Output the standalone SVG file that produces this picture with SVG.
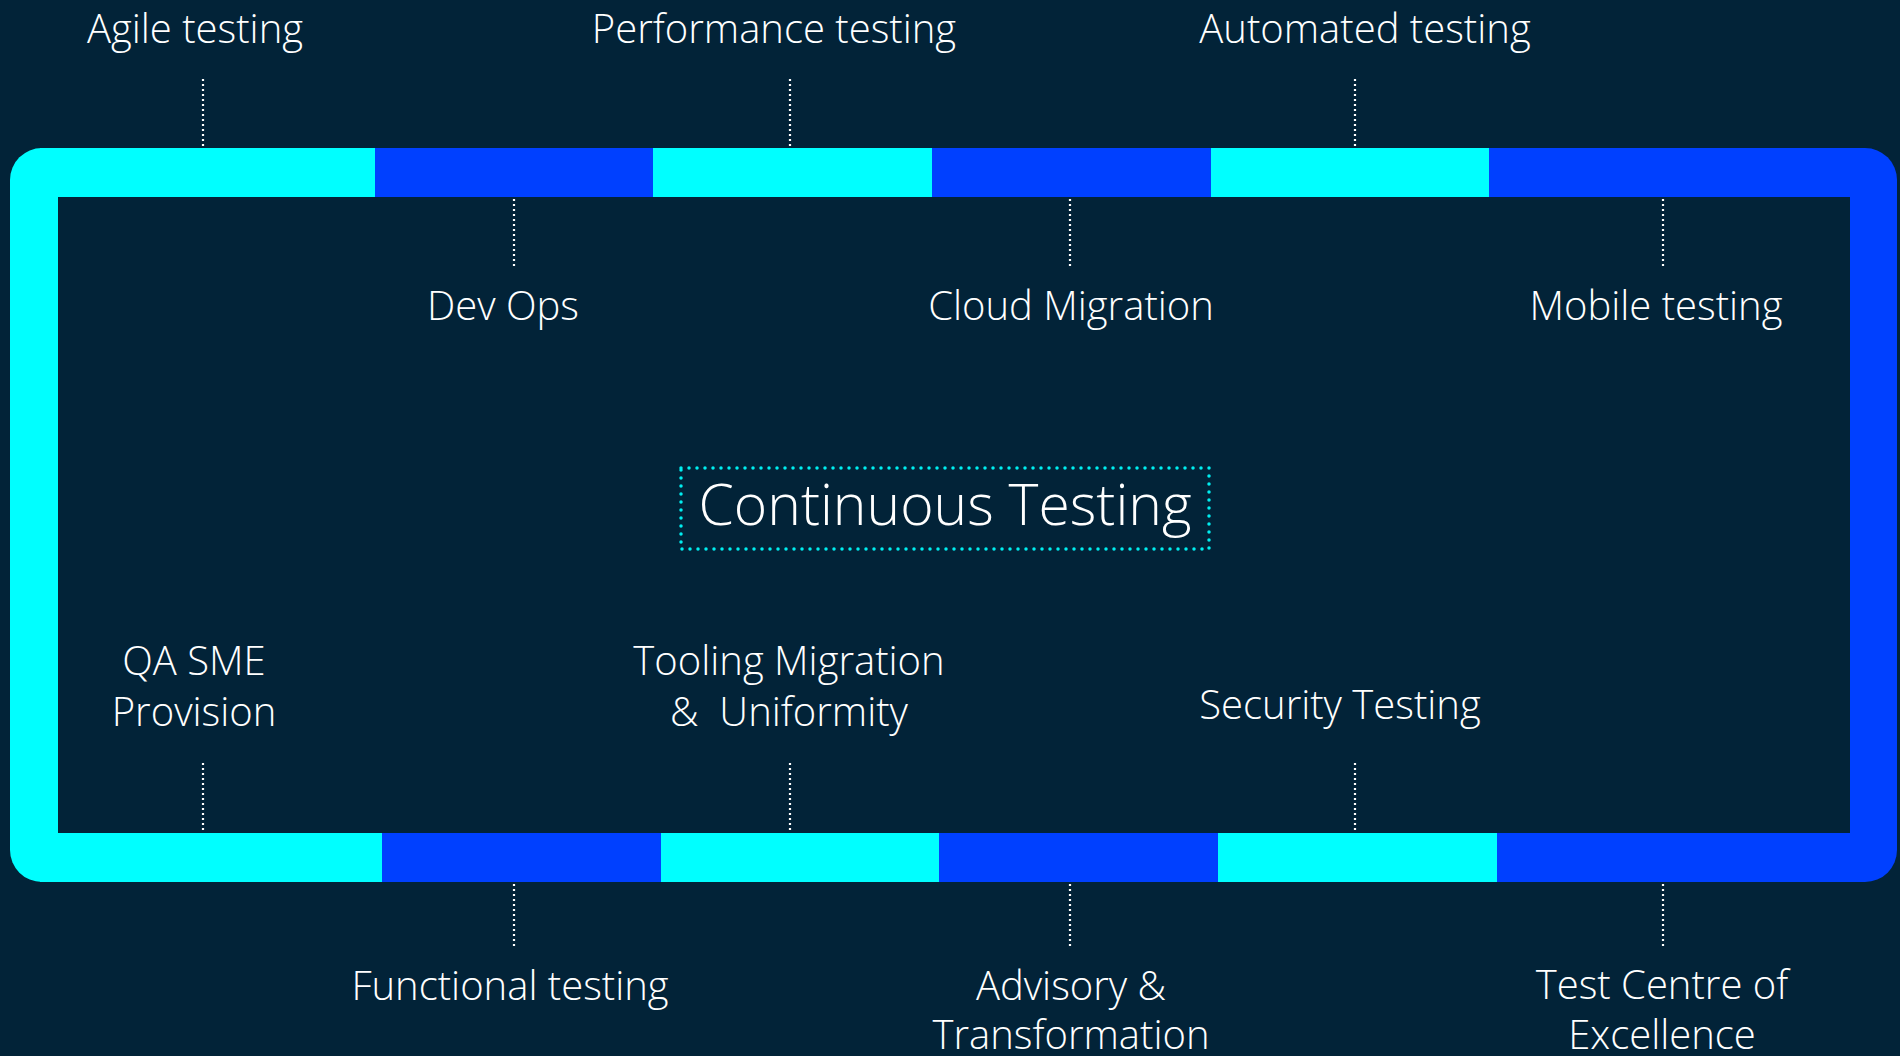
<svg xmlns="http://www.w3.org/2000/svg" width="1900" height="1056" viewBox="0 0 1900 1056">
<style>
.lbl{font-family:"Open Sans","Lato","Liberation Sans",sans-serif;font-weight:300;font-size:40px;fill:#ffffff;text-anchor:middle}
.title{font-family:"Open Sans","Lato","Liberation Sans",sans-serif;font-weight:300;font-size:57px;fill:#ffffff;text-anchor:middle}
.cy{fill:#00ffff}
.bl{fill:#0040ff}
.dot{stroke:#ffffff;stroke-width:2.2;stroke-dasharray:2 3;fill:none}
</style>
<rect x="0" y="0" width="1900" height="1056" fill="#022338"/>
<g id="frame">
<rect class="cy" x="10" y="148" width="300" height="734" rx="32" ry="32"/>
<rect class="bl" x="1597" y="148" width="300" height="734" rx="32" ry="32"/>
<rect class="cy" x="40" y="148" width="335" height="49"/>
<rect class="bl" x="375" y="148" width="278" height="49"/>
<rect class="cy" x="653" y="148" width="279" height="49"/>
<rect class="bl" x="932" y="148" width="279" height="49"/>
<rect class="cy" x="1211" y="148" width="278" height="49"/>
<rect class="bl" x="1489" y="148" width="371" height="49"/>
<rect class="cy" x="40" y="833" width="342" height="49"/>
<rect class="bl" x="382" y="833" width="279" height="49"/>
<rect class="cy" x="661" y="833" width="278" height="49"/>
<rect class="bl" x="939" y="833" width="279" height="49"/>
<rect class="cy" x="1218" y="833" width="279" height="49"/>
<rect class="bl" x="1497" y="833" width="363" height="49"/>
<rect x="58" y="197" width="1792" height="636" fill="#022338"/>
</g>
<g id="connectors">
<line class="dot" x1="203" y1="79" x2="203" y2="148"/>
<line class="dot" x1="790" y1="79" x2="790" y2="148"/>
<line class="dot" x1="1355" y1="79" x2="1355" y2="148"/>
<line class="dot" x1="514" y1="199" x2="514" y2="266"/>
<line class="dot" x1="1070" y1="199" x2="1070" y2="266"/>
<line class="dot" x1="1663" y1="199" x2="1663" y2="266"/>
<line class="dot" x1="203" y1="763" x2="203" y2="832"/>
<line class="dot" x1="790" y1="763" x2="790" y2="832"/>
<line class="dot" x1="1355" y1="763" x2="1355" y2="832"/>
<line class="dot" x1="514" y1="884" x2="514" y2="948"/>
<line class="dot" x1="1070" y1="884" x2="1070" y2="948"/>
<line class="dot" x1="1663" y1="884" x2="1663" y2="948"/>
</g>
<g id="center">
<rect x="681" y="468" width="528" height="81" fill="none" stroke="#00eef0" stroke-width="3.5" stroke-linecap="round" stroke-dasharray="0 8"/>
<text class="title" x="945" y="525">Continuous Testing</text>
</g>
<g id="agile"><text class="lbl" x="195" y="43">Agile testing</text></g>
<g id="performance"><text class="lbl" x="774" y="43">Performance testing</text></g>
<g id="automated"><text class="lbl" x="1365" y="43">Automated testing</text></g>
<g id="devops"><text class="lbl" x="503" y="320">Dev Ops</text></g>
<g id="cloud"><text class="lbl" x="1071" y="320">Cloud Migration</text></g>
<g id="mobile"><text class="lbl" x="1656" y="320">Mobile testing</text></g>
<g id="qasme"><text class="lbl" x="194" y="675">QA SME</text><text class="lbl" x="194" y="726">Provision</text></g>
<g id="tooling"><text class="lbl" x="789" y="675">Tooling Migration</text><text class="lbl" x="789" y="726" xml:space="preserve">&amp;  Uniformity</text></g>
<g id="security"><text class="lbl" x="1340" y="719">Security Testing</text></g>
<g id="functional"><text class="lbl" x="510" y="1000">Functional testing</text></g>
<g id="advisory"><text class="lbl" x="1071" y="1000">Advisory &amp;</text><text class="lbl" x="1071" y="1049">Transformation</text></g>
<g id="tcoe"><text class="lbl" x="1662" y="999">Test Centre of</text><text class="lbl" x="1662" y="1049">Excellence</text></g>
</svg>
